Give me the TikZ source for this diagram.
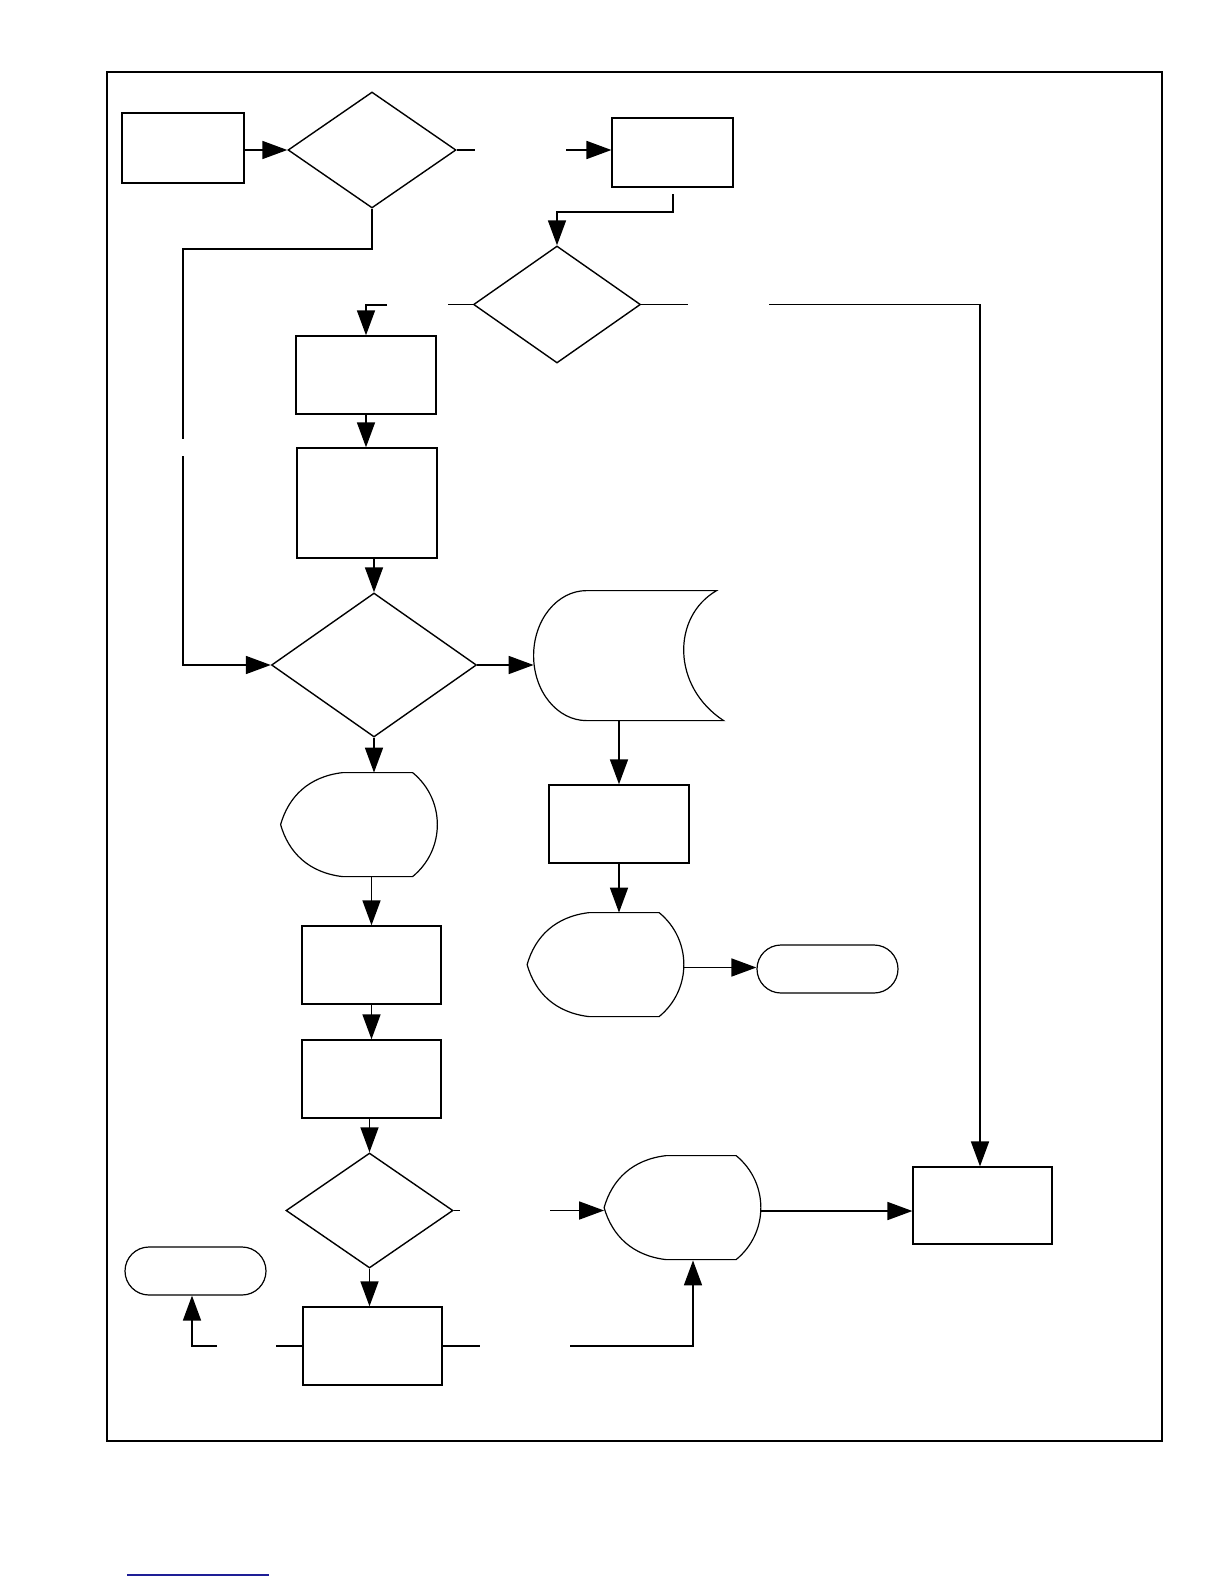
\documentclass[tikz,border=0pt]{standalone}
\usetikzlibrary{shapes.geometric,arrows.meta}
\definecolor{linkblue}{RGB}{30,30,150}
\tikzset{
  px/.style={x=0.5pt,y=-0.5pt},
  procbox/.style={rectangle,draw,line width=0.7pt,inner sep=0pt,minimum width=69.5pt,minimum height=39pt},
  decision/.style={diamond,draw,line width=0.7pt,inner sep=0pt},
  term/.style={rectangle,rounded corners=12pt,draw,line width=0.6pt,inner sep=0pt,minimum width=70.5pt,minimum height=24pt},
  holder/.style={rectangle,draw=none,inner sep=0pt},
  shapeline/.style={draw,line width=0.6pt},
  conn/.style={line width=0.85pt},
  arr/.style={conn,-{Triangle[length=12.5pt,width=9pt]}}
}
\newcommand\dispshape[1]{%
  \draw[shapeline] ([shift={(62,0)}]#1.north west) -- ([shift={(132,0)}]#1.north west)
    .. controls ([shift={(165,27)}]#1.north west) and ([shift={(165,77)}]#1.north west) .. ([shift={(132,104)}]#1.north west)
    -- ([shift={(62,104)}]#1.north west)
    .. controls ([shift={(28,100)}]#1.north west) and ([shift={(8,80)}]#1.north west) .. ([shift={(0,52)}]#1.north west)
    .. controls ([shift={(8,24)}]#1.north west) and ([shift={(28,4)}]#1.north west) .. ([shift={(62,0)}]#1.north west) -- cycle;}
\begin{document}
\begin{tikzpicture}[px]
\useasboundingbox (0,0) rectangle (1224,1584);
% outer frame
\draw[line width=1pt] (107,72) rectangle (1162,1441);
% process boxes
\node[procbox,minimum width=61pt,minimum height=35pt] (B1) at (183,148) {};
\node[procbox,minimum width=60.5pt,minimum height=34.5pt,line width=0.55pt] (B2) at (672.5,152.5) {};
\node[procbox,minimum width=70pt] (B3) at (366,375) {};
\node[procbox,minimum width=70pt,minimum height=55pt] (B4) at (367,503) {};
\node[procbox,minimum width=70pt] (B5) at (619,824) {};
\node[procbox] (B6) at (371.5,965) {};
\node[procbox] (B7) at (371.5,1079) {};
\node[procbox] (B8) at (372.5,1346) {};
\node[procbox,minimum height=38.5pt,line width=0.6pt] (B9) at (982.5,1205.5) {};
% decisions
\node[decision,minimum width=84pt,minimum height=58pt] (D1) at (372,150) {};
\node[decision,minimum width=83.5pt,minimum height=58.5pt] (D2) at (557,304.5) {};
\node[decision,minimum width=102.5pt,minimum height=72pt] (D3) at (374,665) {};
\node[decision,minimum width=83.5pt,minimum height=57.5pt] (D4) at (369.5,1210.5) {};
% terminals
\node[term] (T1) at (195.5,1271) {};
\node[term] (T2) at (827.5,969) {};
% display shapes
\node[holder,minimum width=78pt,minimum height=52pt] (P1) at (359,825) {};
\node[holder,minimum width=78pt,minimum height=52pt] (P3) at (605.5,965) {};
\node[holder,minimum width=78pt,minimum height=52pt] (P2) at (682.5,1208) {};
\dispshape{P1}
\dispshape{P3}
\dispshape{P2}
% stored data
\node[holder,minimum width=95pt,minimum height=65pt] (S) at (629,656) {};
\draw[shapeline] ([shift={(53,0)}]S.north west) -- ([shift={(183,0)}]S.north west)
  .. controls ([shift={(138,26)}]S.north west) and ([shift={(138,96)}]S.north west) .. ([shift={(190,130)}]S.north west)
  -- ([shift={(53,130)}]S.north west)
  .. controls ([shift={(23.7,130)}]S.north west) and ([shift={(0,100.9)}]S.north west) .. ([shift={(0,65)}]S.north west)
  .. controls ([shift={(0,29.1)}]S.north west) and ([shift={(23.7,0)}]S.north west) .. ([shift={(53,0)}]S.north west) -- cycle;
% free ends of broken connectors
\coordinate (q1) at (475,150);
\coordinate (q2) at (566,150);
\coordinate (q3) at (673,194);
\coordinate (q3b) at (673,212);
\coordinate (q4) at (448,304.5);
\coordinate (q5) at (387,305);
\coordinate (q6) at (183,439);
\coordinate (q7) at (183,456);
\coordinate (q8) at (460,1210.5);
\coordinate (q9) at (550,1210.5);
\coordinate (q10) at (276,1346);
\coordinate (q11) at (217,1346);
\coordinate (q12) at (480,1346);
\coordinate (q13) at (570,1346);
\coordinate (q14) at (769,304.5);
\coordinate (q15) at (688,304.5);
% connectors
\draw[arr] (B1.east |- D1.west) -- (D1.west);
\draw[conn] (D1.east) -- (q1);
\draw[arr] (q2) -- (q2 -| B2.west);
\draw[arr] (q3) -- (q3b) -| (D2.north);
\draw[conn] (D2.west) -- (q4);
\draw[arr] (q5) -| (B3.north);
\draw[arr] (B3.south) -- (B3.south |- B4.north);
\draw[arr] (D3.north |- B4.south) -- (D3.north);
\draw[conn] (D1.south) -- ++(0,40) -| (q6);
\draw[arr] (q7) |- (D3.west);
\draw[arr] (D3.east) -- (D3.east -| S.west);
\draw[arr] (B5.north |- S.south) -- (B5.north);
\draw[arr] (B5.south) -- (B5.south |- P3.north);
\draw[arr] ([yshift=-1.25pt]P3.east) -- ([yshift=-1.25pt]P3.east -| T2.west);
\draw[arr] (D3.south) -- (D3.south |- P1.north);
\draw[arr] (B6.north |- P1.south) -- (B6.north);
\draw[arr] (B6.south) -- (B6.south |- B7.north);
\draw[arr] (D4.north |- B7.south) -- (D4.north);
\draw[conn] (D4.east) -- (q8);
\draw[arr] (q9) -- (q9 -| P2.west);
\draw[arr] (D4.south) -- (D4.south |- B8.north);
\draw[conn] (B8.west) -- (q10);
\draw[arr] (q11) -| ([xshift=-1.75pt]T1.south);
\draw[conn] (B8.east) -- (q12);
\draw[arr] (q13) -| ([xshift=5.25pt]P2.south);
\draw[arr] ([yshift=-1.5pt]P2.east) -- ([yshift=-1.5pt]P2.east -| B9.west);
\draw[conn] (D2.east) -- (q15);
\draw[arr] (q14) -| ([xshift=-1.25pt]B9.north);
% blue rule at the foot
\draw[linkblue,line width=0.7pt] (127,1575) -- (269,1575);
\end{tikzpicture}
\end{document}
